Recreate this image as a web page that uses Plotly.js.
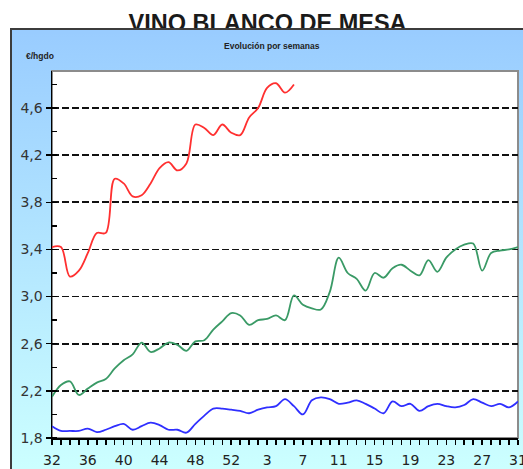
<!DOCTYPE html>
<html>
<head>
<meta charset="utf-8">
<script src="https://cdn.plot.ly/plotly-3.0.1.min.js"></script>
<style>
  html, body { margin: 0; padding: 0; background: #ffffff; overflow: hidden; }
  #wrap { position: relative; width: 523px; height: 469px; }
  #frame { position: absolute; left: 10px; top: 28px; width: 513px; height: 460px;
           border-left: 2px solid #3c3c3c; border-top: 2px solid #3c3c3c;
           background: linear-gradient(to bottom, #99ccff 0px, #ccffff 439px); z-index: 0; }
  #chart { position: absolute; left: 0; top: 0; width: 523px; height: 469px; z-index: 1; }
  #strip { position: absolute; left: 10px; top: 28px; width: 513px; height: 4px;
           border-left: 2px solid #3c3c3c; border-top: 2px solid #3c3c3c;
           background: #99ccff; z-index: 2; pointer-events: none; }
</style>
</head>
<body>
<div id="wrap">
  <div id="frame"></div>
  <div id="chart"></div>
  <div id="strip"></div>
</div>
<script>
// Week labels (week 32 of one year to week 31 of the next)
const weeks = [32,33,34,35,36,37,38,39,40,41,42,43,44,45,46,47,48,49,50,51,52,53,
               1,2,3,4,5,6,7,8,9,10,11,12,13,14,15,16,17,18,19,20,21,22,23,24,25,26,27,28,29,30,31];

// €/hgdo
const redSeries = [3.42, 3.42, 3.17, 3.22, 3.37, 3.54, 3.54, 4.00, 3.96, 3.85, 3.86, 3.96, 4.09, 4.14,
                   4.07, 4.13, 4.46, 4.43, 4.37, 4.46, 4.39, 4.37, 4.52, 4.60, 4.77, 4.81, 4.73, 4.80];

const greenSeries = [2.15, 2.25, 2.28, 2.165, 2.22, 2.27, 2.30, 2.39, 2.46, 2.51, 2.61, 2.53, 2.56, 2.61,
                     2.59, 2.54, 2.62, 2.63, 2.72, 2.79, 2.86, 2.84, 2.76, 2.80, 2.81, 2.84, 2.80, 3.01,
                     2.93, 2.90, 2.89, 3.04, 3.33, 3.20, 3.15, 3.05, 3.20, 3.16, 3.24, 3.27, 3.22, 3.18,
                     3.31, 3.21, 3.33, 3.40, 3.44, 3.45, 3.22, 3.37, 3.39, 3.40, 3.42];

const blueSeries = [1.90, 1.86, 1.86, 1.86, 1.88, 1.85, 1.87, 1.90, 1.92, 1.87, 1.90, 1.93, 1.91, 1.87,
                    1.87, 1.845, 1.92, 1.99, 2.05, 2.05, 2.04, 2.03, 2.01, 2.04, 2.06, 2.07, 2.13, 2.07,
                    2.00, 2.12, 2.145, 2.13, 2.09, 2.10, 2.12, 2.09, 2.05, 2.01, 2.11, 2.07, 2.09, 2.03,
                    2.07, 2.09, 2.07, 2.06, 2.08, 2.13, 2.10, 2.07, 2.09, 2.06, 2.11];

const titleText = 'VINO BLANCO DE MESA';
const subtitleText = 'Evolución por semanas';
const unitText = '€/hgdo';

const xIdx = weeks.map((w, i) => i);
const tickLabels = weeks.map((w, i) => (i % 4 === 0 ? String(w) : ''));

function line(vals, color, width) {
  return {
    x: xIdx.slice(0, vals.length), y: vals, type: 'scatter', mode: 'lines',
    line: { color: color, width: width, shape: 'spline', smoothing: 1 },
    hoverinfo: 'x+y', showlegend: false
  };
}

const data = [
  line(blueSeries, '#2f2fff', 1.8),
  line(greenSeries, '#3a9a66', 1.8),
  line(redSeries, '#ff3030', 1.8)
];

const layout = {
  width: 523, height: 469,
  margin: { l: 52, r: 5, t: 71, b: 31, pad: 0 },
  paper_bgcolor: 'rgba(0,0,0,0)',
  plot_bgcolor: '#ffffff',
  separators: ',.',
  showlegend: false,
  title: {
    text: titleText,
    font: { family: 'Liberation Sans, Arial, sans-serif', size: 23.5, color: '#1a1a1a', weight: 'bold' },
    xref: 'container', yref: 'container', x: 0.5115, y: 0.9512,
    xanchor: 'center', yanchor: 'middle'
  },
  xaxis: {
    range: [0, 52],
    tickmode: 'array', tickvals: xIdx, ticktext: tickLabels,
    ticks: 'outside', ticklen: 5, tickwidth: 1.5, tickcolor: '#000',
    ticklabelstandoff: 4,
    ticklabeloverflow: 'allow',
    showgrid: false, zeroline: false,
    showline: true, linecolor: '#000', linewidth: 1.5,
    tickfont: { family: 'DejaVu Sans, sans-serif', size: 14, color: '#222' },
    fixedrange: true
  },
  yaxis: {
    range: [1.8, 4.914],
    tickmode: 'linear', tick0: 1.8, dtick: 0.4, tickformat: '.1f',
    ticks: 'outside', ticklen: 5, tickwidth: 1.5, tickcolor: '#000',
    showgrid: true, gridcolor: '#111', gridwidth: 1.6, griddash: '7px,3px',
    minor: { tick0: 1.8, dtick: 0.2, ticks: 'inside', ticklen: 5, tickwidth: 1.5, tickcolor: '#000', showgrid: false },
    zeroline: false,
    showline: true, linecolor: '#000', linewidth: 1.5,
    tickfont: { family: 'DejaVu Sans, sans-serif', size: 14, color: '#333' },
    fixedrange: true
  },
  shapes: [
    { type: 'rect', xref: 'paper', yref: 'paper', x0: 0, x1: 1, y0: 0, y1: 1,
      line: { color: '#8c8c8c', width: 2 }, fillcolor: 'rgba(0,0,0,0)', layer: 'below' }
  ],
  annotations: [
    { text: subtitleText, xref: 'paper', yref: 'paper', x: 0.472, y: 1.068,
      xanchor: 'center', yanchor: 'middle', showarrow: false,
      font: { family: 'Liberation Sans, Arial, sans-serif', size: 8.5, color: '#222', weight: 'bold' } },
    { text: unitText, xref: 'paper', yref: 'paper', x: -0.0258, y: 1.041,
      xanchor: 'center', yanchor: 'middle', showarrow: false,
      font: { family: 'Liberation Sans, Arial, sans-serif', size: 8.5, color: '#222', weight: 'bold' } }
  ]
};

Plotly.newPlot('chart', data, layout, { displayModeBar: false, staticPlot: true });
</script>
</body>
</html>
